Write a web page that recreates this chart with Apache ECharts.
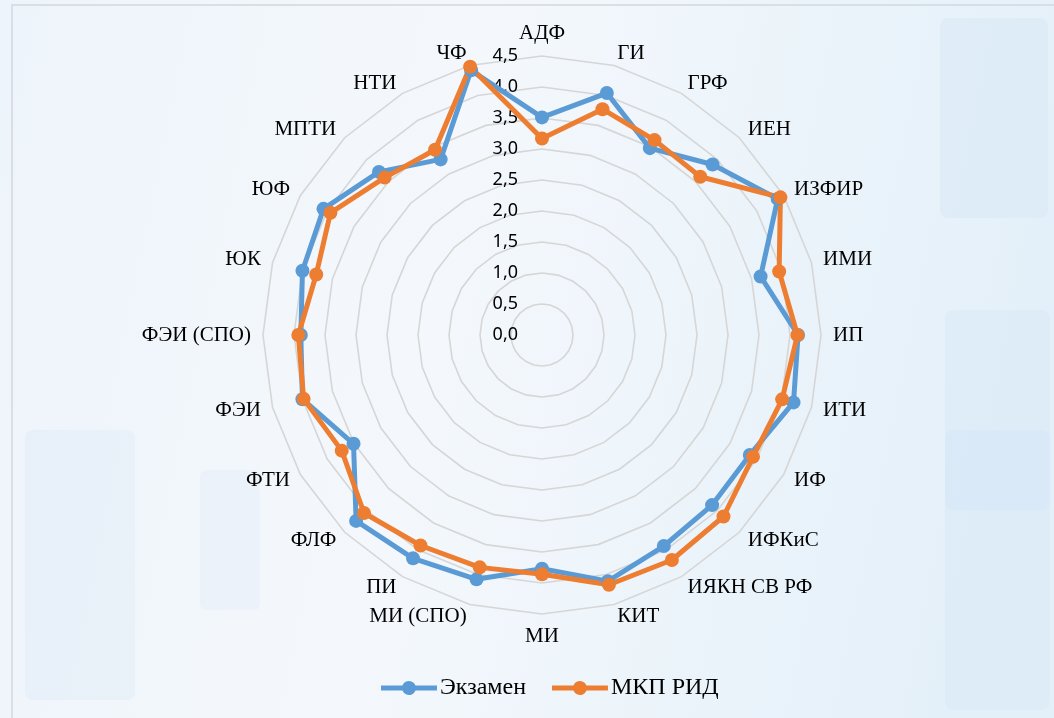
<!DOCTYPE html>
<html>
<head>
<meta charset="utf-8">
<script src="https://cdn.jsdelivr.net/npm/echarts@6/dist/echarts.min.js"></script>
<style>
html,body{margin:0;padding:0;width:1054px;height:718px;overflow:hidden;}
#c{width:1054px;height:718px;}
</style>
</head>
<body>
<div id="c"></div>
<script>
const categories = ['АДФ','ГИ','ГРФ','ИЕН','ИЗФИР','ИМИ','ИП','ИТИ','ИФ','ИФКиС','ИЯКН СВ РФ','КИТ','МИ','МИ (СПО)','ПИ','ФЛФ','ФТИ','ФЭИ','ФЭИ (СПО)','ЮК','ЮФ','МПТИ','НТИ','ЧФ'];
const examValues = [3.51, 4.04, 3.48, 3.89, 4.39, 3.65, 4.13, 4.20, 3.87, 3.88, 3.93, 4.11, 3.77, 4.08, 4.16, 4.24, 3.51, 4.00, 3.89, 4.00, 4.07, 3.72, 3.27, 4.42];
const mkpValues  = [3.17, 3.77, 3.63, 3.61, 4.44, 3.96, 4.12, 4.01, 3.93, 4.14, 4.19, 4.17, 3.86, 3.88, 3.92, 4.06, 3.73, 3.98, 3.93, 3.77, 3.94, 3.59, 3.45, 4.48];
const seriesNames = ['Экзамен', 'МКП РИД'];
const axisMin = 0, axisMax = 4.5, axisStep = 0.5;

// ECharts radar runs counter-clockwise; reorder so categories run clockwise from the top
const order = [0].concat(categories.map((_, i) => i).slice(1).reverse());
const reorder = arr => order.map(i => arr[i]);

const chart = echarts.init(document.getElementById('c'), null, {renderer: 'canvas'});

const indicators = order.map((ci, k) => {
  const ind = {name: categories[ci], min: axisMin, max: axisMax};
  if (k === 0) ind.axisLabel = {show: true};
  return ind;
});

const legendIcon = 'path://M0,4.5 H21.46 A7,7 0 0,1 34.54,4.5 H56 V9.5 H34.54 A7,7 0 0,1 21.46,9.5 H0 Z';

const option = {
  backgroundColor: {
    type: 'linear', x: 0, y: 0, x2: 1, y2: 0.3,
    colorStops: [
      {offset: 0, color: '#eef4fb'},
      {offset: 0.45, color: '#f4f8fc'},
      {offset: 1, color: '#e4f0f9'}
    ]
  },
  graphic: [
    {type: 'rect', shape: {x: 25, y: 430, width: 110, height: 270, r: 8}, style: {fill: 'rgba(205,222,240,0.22)'}, silent: true, z: -10},
    {type: 'rect', shape: {x: 200, y: 470, width: 60, height: 140, r: 6}, style: {fill: 'rgba(205,222,240,0.18)'}, silent: true, z: -10},
    {type: 'rect', shape: {x: 940, y: 18, width: 108, height: 200, r: 8}, style: {fill: 'rgba(200,225,245,0.25)'}, silent: true, z: -10},
    {type: 'rect', shape: {x: 945, y: 310, width: 105, height: 200, r: 8}, style: {fill: 'rgba(200,225,245,0.22)'}, silent: true, z: -10},
    {type: 'rect', shape: {x: 945, y: 430, width: 105, height: 280, r: 8}, style: {fill: 'rgba(200,225,245,0.22)'}, silent: true, z: -10},
    {type: 'rect', shape: {x: 12, y: 5, width: 1050, height: 720}, style: {fill: 'none', stroke: '#d4d8dc', lineWidth: 1.5}, silent: true, z: -5}
  ],
  legend: {
    data: seriesNames.map(n => ({name: n, icon: legendIcon})),
    top: 671,
    left: 376,
    itemWidth: 56,
    itemHeight: 14,
    itemGap: 26,
    textStyle: {fontFamily: 'Liberation Serif', fontSize: 24, color: '#000', padding: [0, 0, 0, -2]}
  },
  radar: {
    center: [542, 335],
    radius: 279,
    startAngle: 90,
    shape: 'polygon',
    splitNumber: Math.round((axisMax - axisMin) / axisStep),
    indicator: indicators,
    nameGap: 12,
    axisName: {color: '#000', fontFamily: 'Liberation Serif', fontSize: 21},
    axisLine: {show: false},
    axisTick: {show: false},
    splitArea: {show: false},
    splitLine: {lineStyle: {color: '#d6d6d6', width: 1.6}},
    axisLabel: {
      show: false,
      margin: 24,
      color: '#000',
      fontFamily: 'Noto Sans',
      fontSize: 18,
      formatter: v => Number(v).toFixed(1).replace('.', ',')
    }
  },
  series: [
    {
      name: seriesNames[0],
      type: 'radar',
      symbol: 'circle',
      symbolSize: 14,
      itemStyle: {color: '#5b9bd5'},
      lineStyle: {color: '#5b9bd5', width: 5},
      data: [{name: seriesNames[0], value: reorder(examValues)}]
    },
    {
      name: seriesNames[1],
      type: 'radar',
      symbol: 'circle',
      symbolSize: 14,
      itemStyle: {color: '#ed7d31'},
      lineStyle: {color: '#ed7d31', width: 5},
      data: [{name: seriesNames[1], value: reorder(mkpValues)}]
    }
  ]
};
chart.setOption(option);
</script>
</body>
</html>
